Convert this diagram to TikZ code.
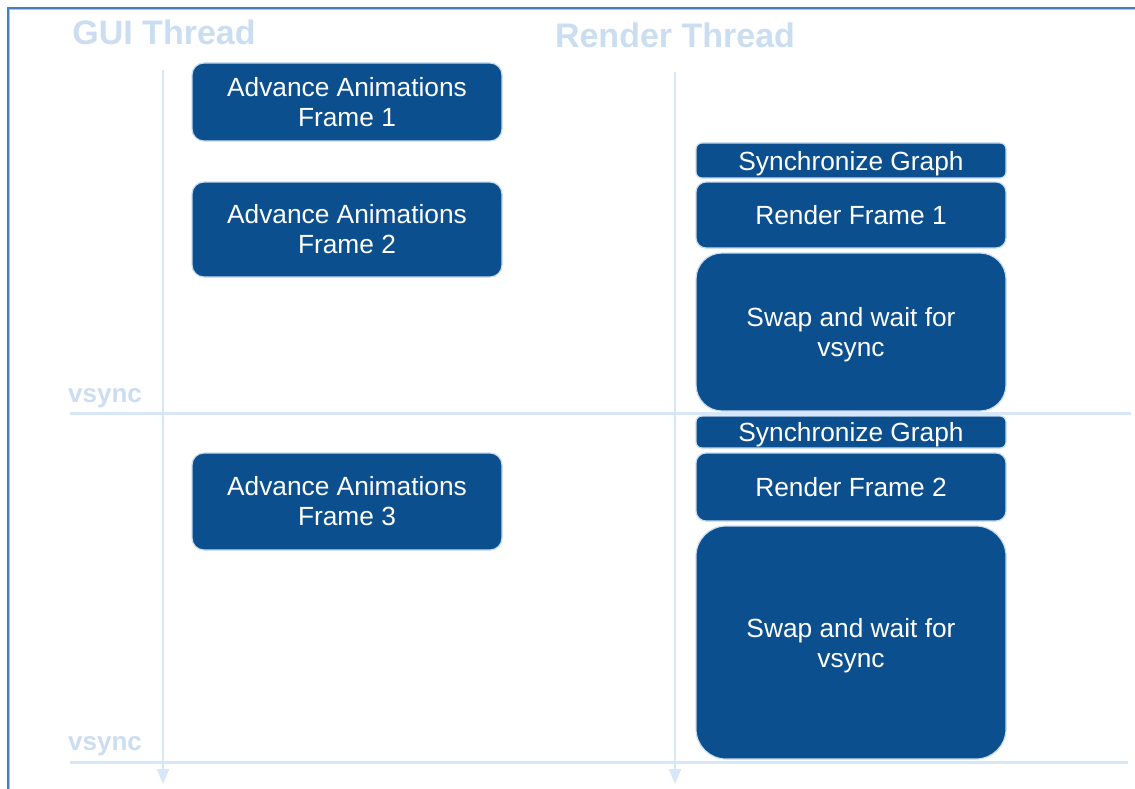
\documentclass[tikz,border=0pt]{standalone}
\usepackage{fontspec}
\setmainfont{Liberation Sans}
\usetikzlibrary{arrows.meta}
\definecolor{boxblue}{HTML}{0C4F8F}
\definecolor{boxedge}{HTML}{C6DCF1}
\definecolor{axisblue}{HTML}{D7E7F7}
\definecolor{framedark}{HTML}{4A7EC0}
\definecolor{framelight}{HTML}{A9C4E6}
\definecolor{headtxt}{HTML}{CBDEF1}
\begin{document}
\begin{tikzpicture}[x=1pt,y=-1pt,
  task/.style={fill=boxblue, draw=boxedge, line width=1.2pt, text=white,
    font=\fontsize{26.3}{30}\selectfont, align=center, inner sep=0pt},
  lowtext/.style={text depth=0pt},
  head/.style={text=headtxt, font=\fontsize{34}{36}\selectfont\bfseries, inner sep=0pt, anchor=base},
  vlabel/.style={text=headtxt, font=\fontsize{26}{30}\selectfont\bfseries, inner sep=0pt, anchor=base west},
  axis/.style={draw=axisblue, line width=2pt, -{Triangle[width=12pt,length=15pt]}},
  vline/.style={draw=axisblue, line width=3pt}
]
% page area
\useasboundingbox (0,0) rectangle (1135,789);
\fill[white] (0,0) rectangle (1135,789);

% outer frame (top and left edges)
\draw[framelight, line width=1.5pt] (9.5,789) -- (9.5,9.5) -- (1135,9.5);
\draw[framedark, line width=1.5pt] (8,789) -- (8,8) -- (1135,8);

% thread headings
\node[head] (gui) at (164,45) {GUI Thread};
\node[head] (render) at (675,48) {Render Thread};

% time axes
\coordinate (guiTop) at (163,70);
\coordinate (guiEnd) at (163,784);
\coordinate (renTop) at (675,72);
\coordinate (renEnd) at (675,784);
\draw[axis] (guiTop) -- (guiEnd);
\draw[axis] (renTop) -- (renEnd);

% vsync lines
\coordinate (vsA1) at (70,413);
\coordinate (vsB1) at (1131,413);
\coordinate (vsA2) at (70,762);
\coordinate (vsB2) at (1128,762);
\draw[vline] (vsA1) -- (vsB1);
\draw[vline] (vsA2) -- (vsB2);
\node[vlabel] (vs1) at (68,402) {vsync};
\node[vlabel] (vs2) at (68,750) {vsync};

% GUI thread tasks
\node[task, minimum width=310pt, minimum height=78pt, rounded corners=12pt] (aa1) at (347,102) {Advance Animations\\Frame 1};
\node[task, minimum width=310pt, minimum height=95pt, rounded corners=12pt] (aa2) at (347,229.5) {Advance Animations\\Frame 2};
\node[task, minimum width=310pt, minimum height=97pt, rounded corners=12pt] (aa3) at (347,501.5) {Advance Animations\\Frame 3};

% render thread tasks, frame 1
\node[task, lowtext, minimum width=310pt, minimum height=35pt, rounded corners=6pt] (sg1) at (851,160.5) {Synchronize Graph};
\node[task, minimum width=310pt, minimum height=66pt, rounded corners=10pt] (rf1) at (851,215) {Render Frame 1};
\node[task, lowtext, minimum width=310pt, minimum height=158pt, rounded corners=26pt] (sw1) at (851,332) {Swap and wait for\\vsync};

% render thread tasks, frame 2
\node[task, lowtext, minimum width=310pt, minimum height=32pt, rounded corners=6pt] (sg2) at (851,432) {Synchronize Graph};
\node[task, minimum width=310pt, minimum height=68pt, rounded corners=10pt] (rf2) at (851,487) {Render Frame 2};
\node[task, lowtext, minimum width=310pt, minimum height=233pt, rounded corners=30pt] (sw2) at (851,642.5) {Swap and wait for\\vsync};
\end{tikzpicture}
\end{document}
